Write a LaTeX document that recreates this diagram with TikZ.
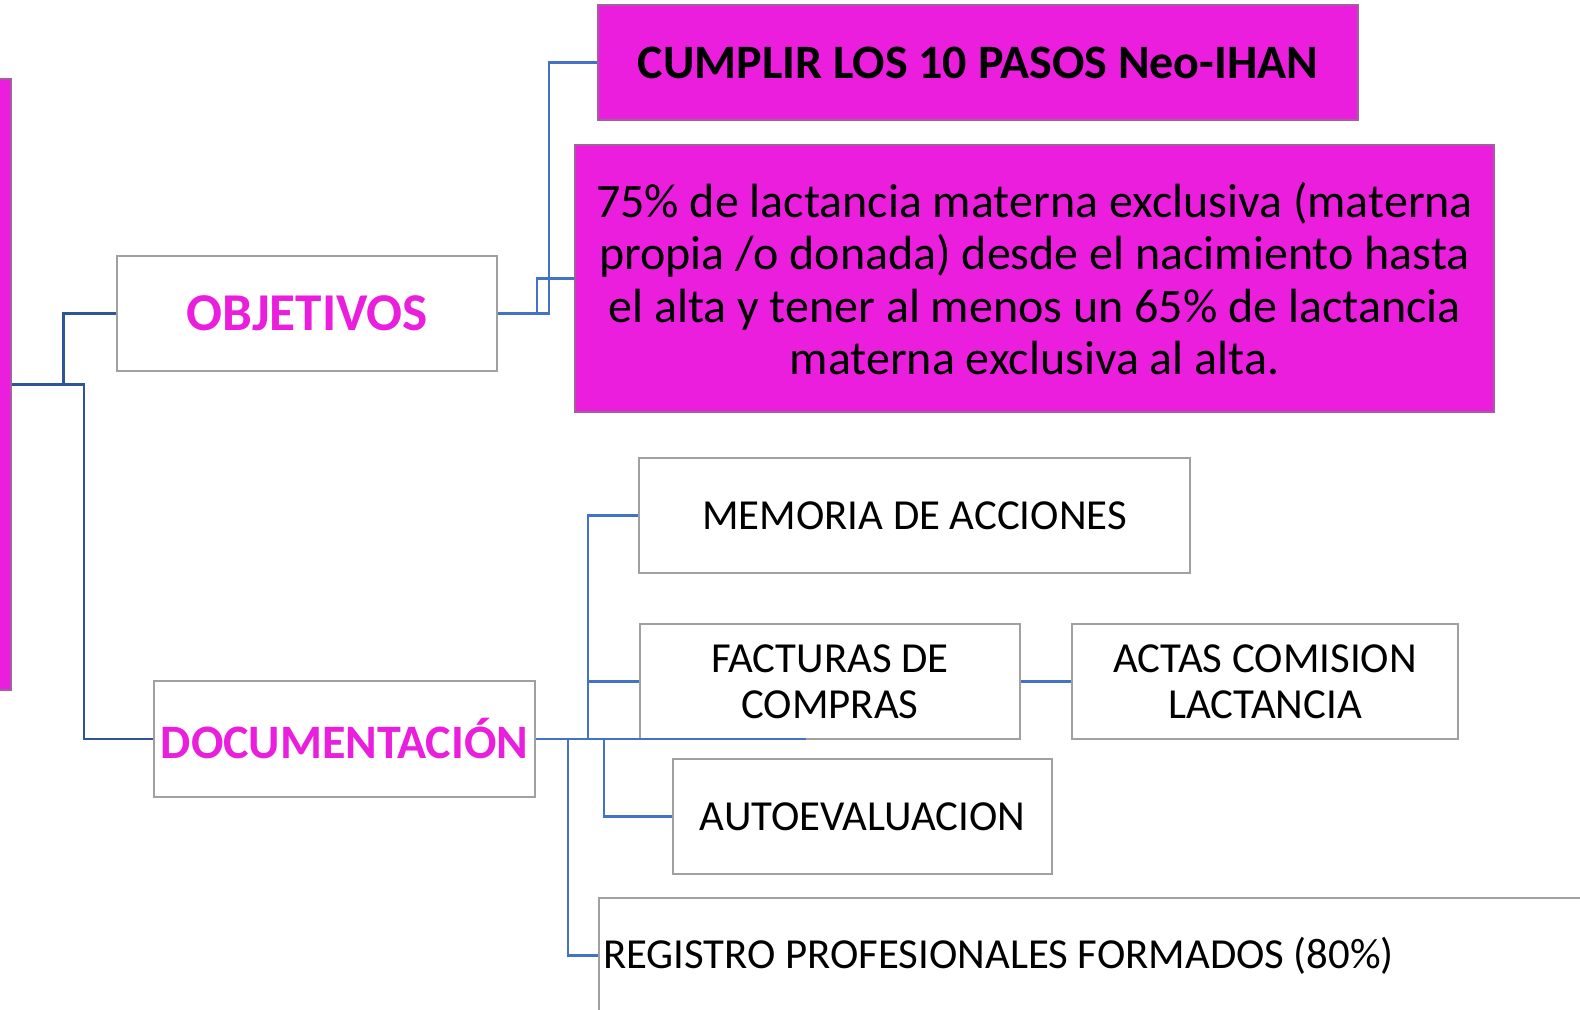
\documentclass[tikz,border=0pt]{standalone}
\usepackage{fontspec}
\setmainfont{Carlito}
\usepackage{tikz}

\tikzset{
	caja/.style={draw={rgb, 255:red, 160; green, 160; blue, 160}, line width=0.8pt, fill=white, inner sep=0pt, align=center, font=\fontsize{21.4}{22.9}\selectfont},
	cajarosa/.style={draw={rgb, 255:red, 165; green, 95; blue, 160}, line width=0.8pt, fill={rgb, 255:red, 234; green, 30; blue, 220}, inner sep=0pt, align=center},
	titulo/.style={text={rgb, 255:red, 234; green, 30; blue, 220}, font=\bfseries\fontsize{26.6}{28}\selectfont},
	tronco/.style={draw={rgb, 255:red, 47; green, 85; blue, 151}, line width=1.3pt},
	enlace/.style={draw={rgb, 255:red, 68; green, 114; blue, 196}, line width=1.3pt}
}

\begin{document}
\begin{tikzpicture}[x=0.5pt,y=-0.5pt]
	\useasboundingbox (0,0) rectangle (1580,1010);
	\clip (0,0) rectangle (1580,1010);
	
	%Shape: Rectangle
	\node [cajarosa, minimum width=26pt, minimum height=305.5pt] (barra) at (-15,384.5) {};
	
	% Text Node
	\node [caja, titulo, minimum width=190pt, minimum height=57.5pt] (objetivos) at (307,313.5) {OBJETIVOS};
	% Text Node
	\node [cajarosa, minimum width=380pt, minimum height=57.5pt, font=\bfseries\fontsize{24}{26}\selectfont] (pasos) at (978,62.5) {CUMPLIR LOS 10 PASOS Neo-IHAN};
	% Text Node
	\node [cajarosa, minimum width=459.5pt, minimum height=133.5pt, font=\fontsize{24}{26.2}\selectfont] (lactancia) at (1034.5,278.5) {75\% de lactancia materna exclusiva (materna\\propia /o donada) desde el nacimiento hasta\\el alta y tener al menos un 65\% de lactancia\\materna exclusiva al alta.};
	% Text Node
	\node [caja, titulo, minimum width=190.5pt, minimum height=58pt, font=\bfseries\fontsize{24}{26}\selectfont] (documentacion) at (344.5,739) {DOCUMENTACIÓN};
	% Text Node
	\node [caja, minimum width=275.5pt, minimum height=57.5pt] (memoria) at (914.5,515.5) {MEMORIA DE ACCIONES};
	% Text Node
	\node [caja, minimum width=190pt, minimum height=57.5pt] (facturas) at (830,681.5) {FACTURAS DE\\COMPRAS};
	% Text Node
	\node [caja, minimum width=193pt, minimum height=57.5pt] (actas) at (1265,681.5) {ACTAS COMISION\\LACTANCIA};
	% Text Node
	\node [caja, minimum width=189.5pt, minimum height=57.5pt] (autoevaluacion) at (862.5,816.5) {AUTOEVALUACION};
	% Text Node
	\node [caja, minimum height=57.5pt, text width=507pt, inner xsep=2pt, align=flush left] (registro) at (1110,955.5) {REGISTRO PROFESIONALES FORMADOS (80\%)};
	
	% Connection
	\draw [tronco] (objetivos.west) -- ++(-53,0) |- (barra.east);
	% Connection
	\draw [tronco] (barra.east) -- ++(72,0) |- (documentacion.west);
	% Connection
	\draw [enlace] (objetivos.east) -- ++(51,0) |- (pasos.west);
	% Connection
	\draw [enlace] (objetivos.east) -- ++(39,0) |- (lactancia.west);
	% Connection
	\draw [enlace] (documentacion.east) -- ++(270,0);
	% Connection
	\draw [enlace] (documentacion.east) -- ++(52,0) |- (memoria.west);
	% Connection
	\draw [enlace] (documentacion.east) -- ++(52,0) |- (facturas.west);
	% Connection
	\draw [enlace] (documentacion.east) -- ++(68,0) |- (autoevaluacion.west);
	% Connection
	\draw [enlace] (documentacion.east) -- ++(32,0) |- (registro.west);
	% Connection
	\draw [enlace] (facturas.east) -- (actas.west);
\end{tikzpicture}
\end{document}
